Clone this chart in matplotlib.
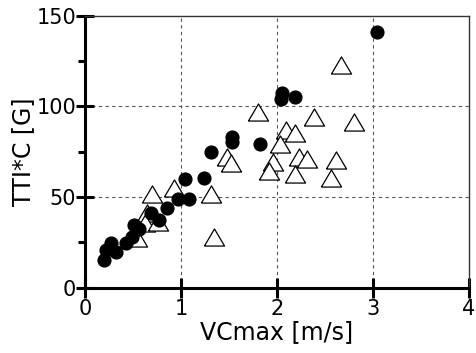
import matplotlib as mpl
mpl.use('Agg')
import matplotlib.pyplot as plt
from matplotlib.ticker import MultipleLocator

plt.rcParams['font.family'] = ['DejaVu Sans']

# filled circles
circX = [3.045, 2.056, 2.049, 2.194, 1.535, 1.535, 1.823, 1.316, 1.243, 1.038,
         0.969, 1.083, 0.851, 0.684, 0.771, 0.510, 0.563, 0.486, 0.431, 0.274,
         0.222, 0.319, 0.201, 0.26]
circY = [140.8, 107.5, 103.8, 105.1, 83.2, 80.4, 79.1, 74.7, 60.4, 59.6,
         48.8, 48.8, 43.6, 41.2, 37.2, 34.2, 32.2, 27.6, 24.3, 24.8,
         20.6, 19.7, 15.1, 22.0]

# open triangles
triX = [2.67, 1.802, 2.392, 2.809, 2.097, 2.194, 2.038, 1.476, 1.524, 2.229,
        2.316, 2.622, 1.958, 1.917, 2.188, 2.566, 0.927, 0.701, 1.316, 1.344,
        0.646, 0.63, 0.757, 0.54]
triY = [122.8, 97.0, 94.2, 91.5, 86.9, 85.0, 79.1, 72.1, 68.8, 72.1,
        70.7, 70.3, 69.4, 64.4, 62.6, 60.2, 55.0, 51.4, 51.4, 28.0,
        41.0, 35.5, 36.0, 27.2]

# a slightly flattened triangle, like the original
triMarker = [(-1, -0.85), (1, -0.85), (0, 0.85), (-1, -0.85)]

fig = plt.figure(figsize=(4.76, 3.53), dpi=100)
ax = fig.add_axes([85 / 476, 1 - 287.5 / 353, (468.5 - 85) / 476, (287.5 - 15.5) / 353])

ax.plot(triX, triY, linestyle='none', marker=triMarker, markersize=14.5,
        markerfacecolor='white', markeredgecolor='black', markeredgewidth=0.9, zorder=3)
ax.plot(circX, circY, linestyle='none', marker='o', markersize=9.2,
        markerfacecolor='black', markeredgecolor='black', zorder=4)

ax.set_xlim(0, 4)
ax.set_ylim(0, 150)
ax.set_xticks([0, 1, 2, 3, 4])
ax.set_yticks([0, 50, 100, 150])
ax.yaxis.set_minor_locator(MultipleLocator(25))

for x in [1, 2, 3]:
    ax.axvline(x, color='#555555', linestyle=(0, (3, 3)), linewidth=0.8, zorder=1)
for y in [50, 100]:
    ax.axhline(y, color='#555555', linestyle=(0, (3, 3)), linewidth=0.8, zorder=1)

ax.spines['left'].set_linewidth(2.2)
ax.spines['bottom'].set_linewidth(2.2)
ax.spines['top'].set_linewidth(1.0)
ax.spines['right'].set_linewidth(1.0)
ax.spines['top'].set_color('#333333')
ax.spines['right'].set_color('#333333')

ax.tick_params(axis='x', which='major', direction='inout', length=14, width=2.2,
               labelsize=15, pad=1)
ax.tick_params(axis='y', which='major', direction='inout', length=13, width=2.2,
               labelsize=15, pad=0)
ax.tick_params(axis='y', which='minor', direction='out', length=5, width=2.2)

ax.set_xlabel('VCmax [m/s]', fontsize=17, labelpad=1)
ax.set_ylabel('TTI*C [G]', fontsize=17, labelpad=1)

plt.savefig('out.png', dpi=100)
